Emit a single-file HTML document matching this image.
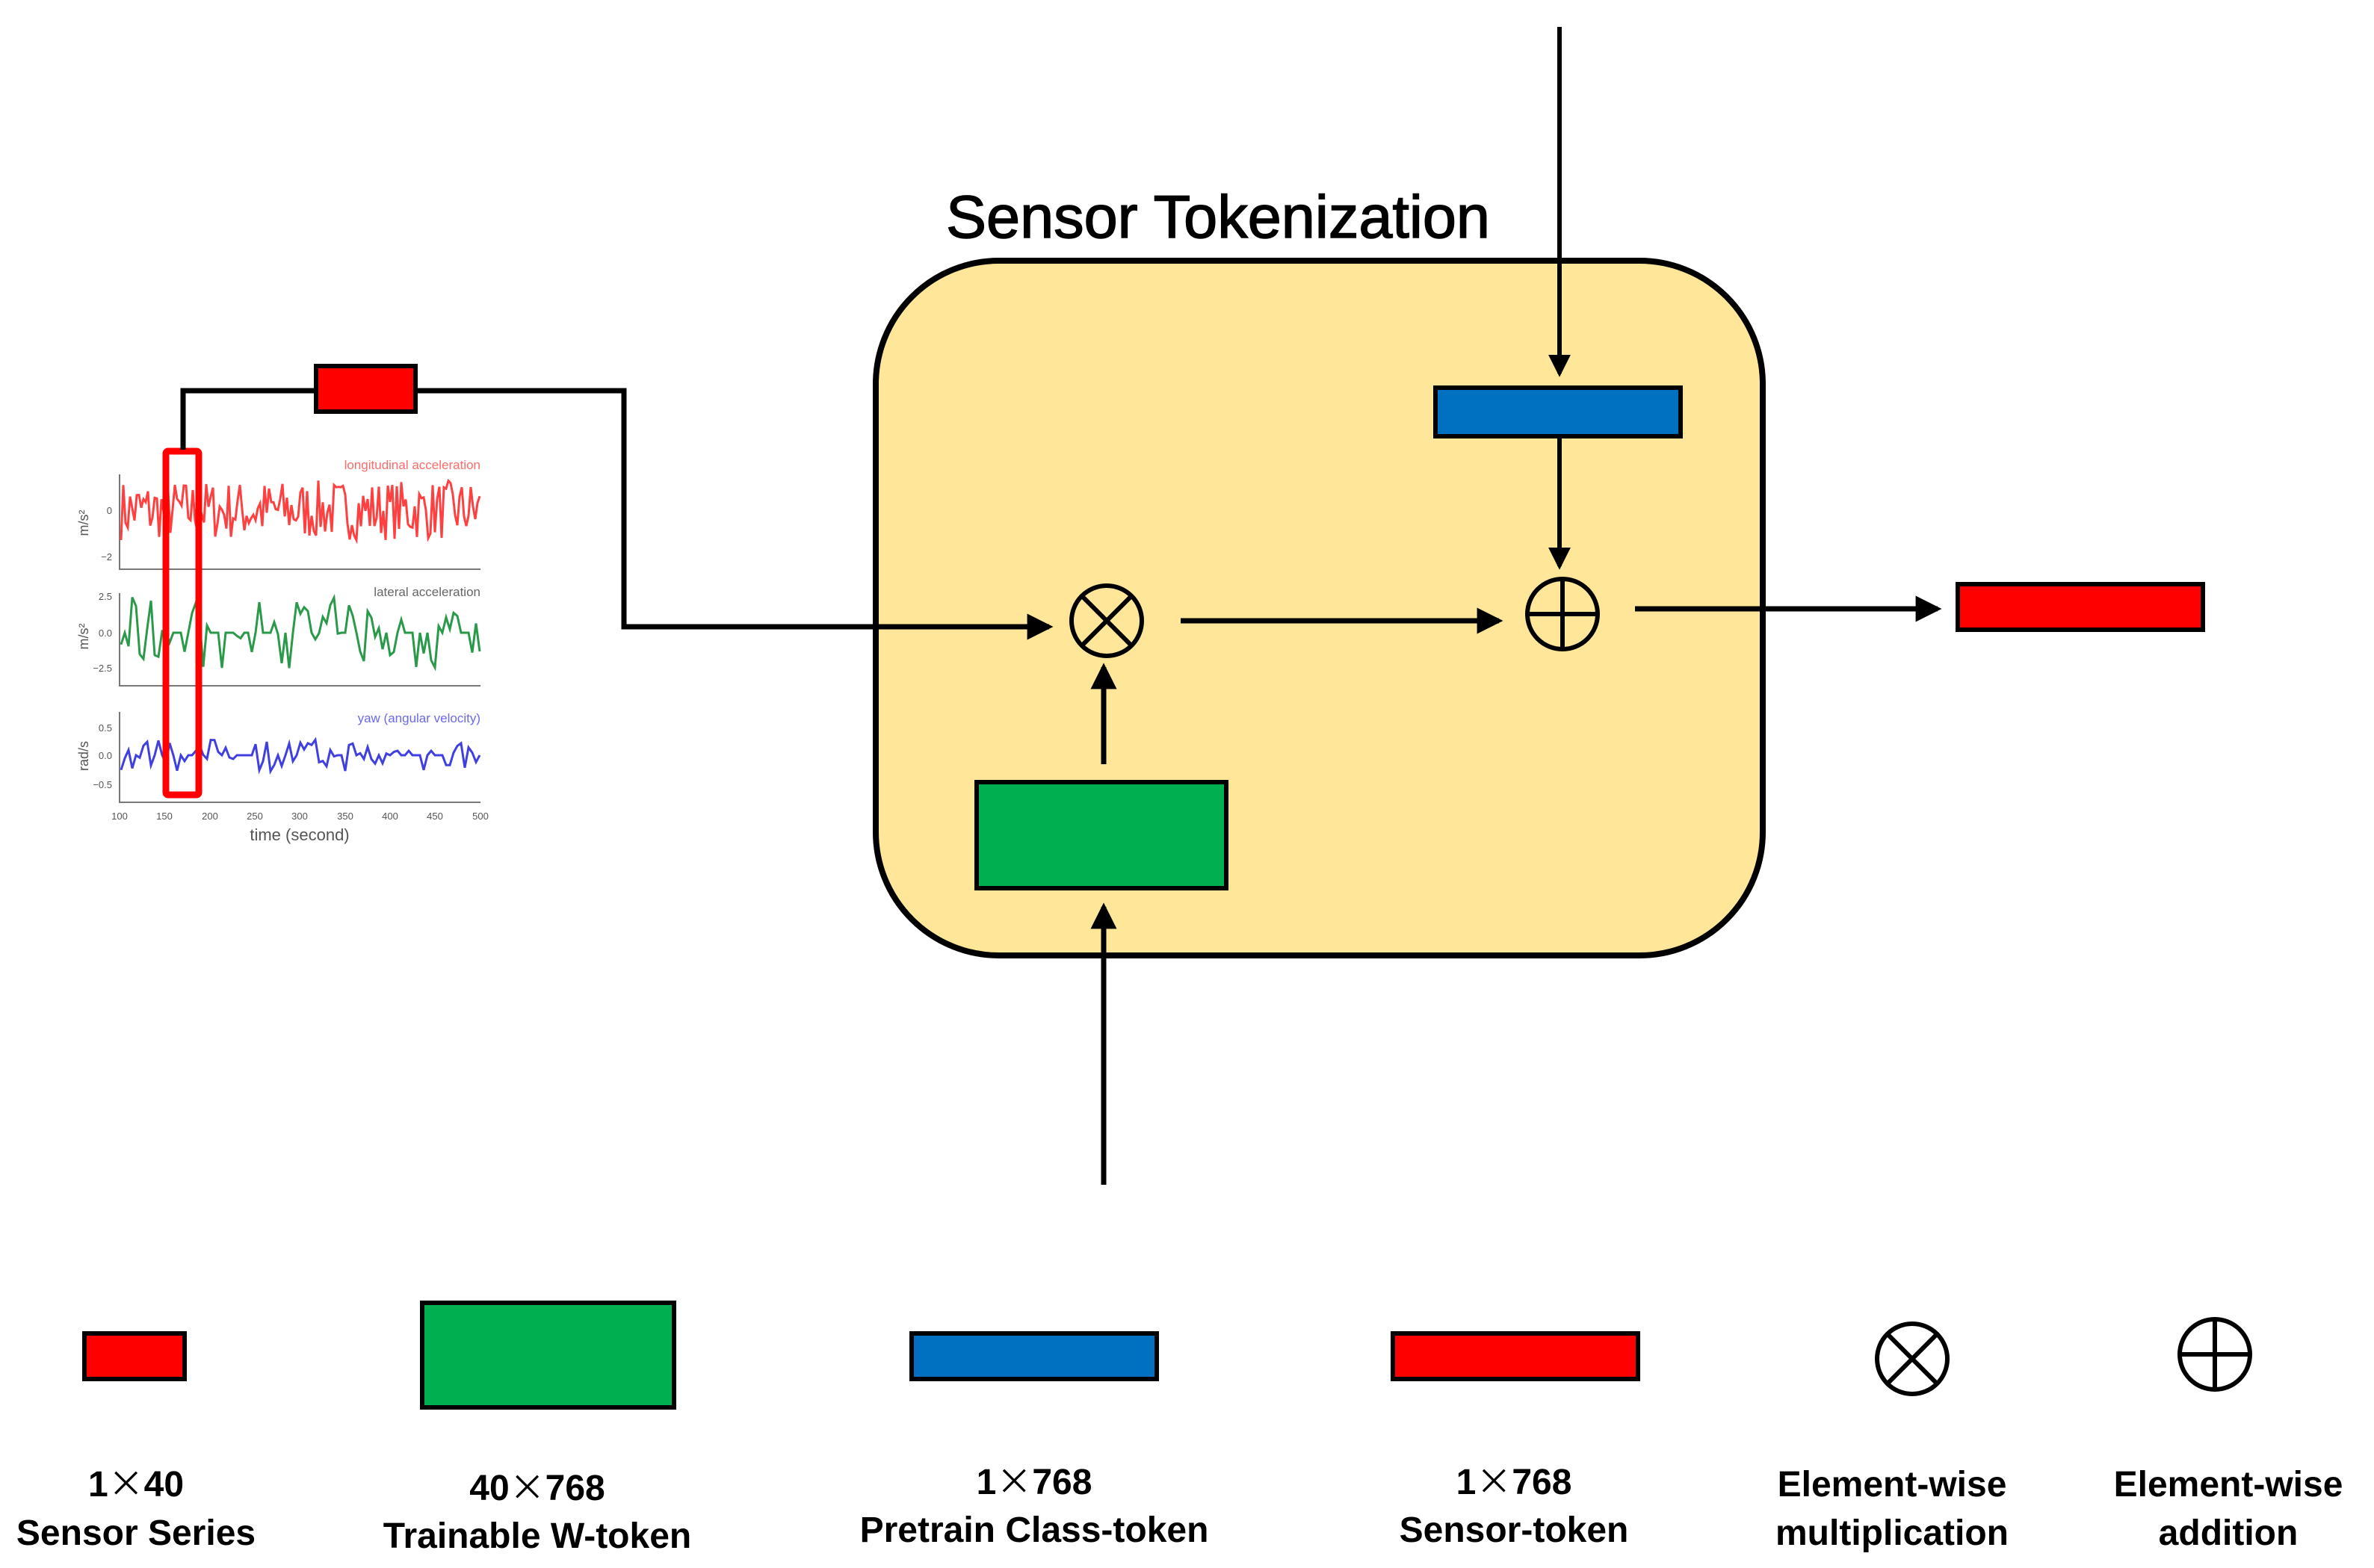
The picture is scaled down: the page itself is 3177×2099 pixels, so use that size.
<!DOCTYPE html>
<html><head><meta charset="utf-8"><style>
html,body{margin:0;padding:0;background:#fff;}
svg{display:block;}
text{font-family:"Liberation Sans","Noto Sans CJK SC",sans-serif;}
.cj{font-family:"Noto Sans CJK SC",sans-serif;font-weight:normal;}
</style></head><body>
<svg id="s" width="3177" height="2099" viewBox="0 0 3177 2099" xmlns="http://www.w3.org/2000/svg">
<defs>
<marker id="ah" markerWidth="5" markerHeight="5" refX="4.2" refY="2.5" orient="auto" markerUnits="strokeWidth">
<path d="M0,0 L5,2.5 L0,5 z" fill="#000"/></marker>
</defs>
<rect width="3177" height="2099" fill="#fff"/>
<!-- chart -->
<g id="chart" font-size="17" fill="#555">
<g stroke="#777" stroke-width="2" fill="none">
<path d="M160 635 V762 H643"/>
<path d="M160 794 V918 H643"/>
<path d="M160 953 V1074 H643"/>
</g>
<text x="643" y="628" text-anchor="end" fill="#ff6a6a">longitudinal acceleration</text>
<text x="643" y="798" text-anchor="end" fill="#666">lateral acceleration</text>
<text x="643" y="967" text-anchor="end" fill="#6a6aee">yaw (angular velocity)</text>
<g font-size="13" fill="#555" text-anchor="end">
<text x="150" y="688">0</text><text x="150" y="750">−2</text>
<text x="150" y="803">2.5</text><text x="150" y="852">0.0</text><text x="150" y="899">−2.5</text>
<text x="150" y="979">0.5</text><text x="150" y="1016">0.0</text><text x="150" y="1055">−0.5</text>
</g>
<g font-size="13" fill="#555" text-anchor="middle">
<text x="160" y="1097">100</text><text x="220" y="1097">150</text><text x="281" y="1097">200</text><text x="341" y="1097">250</text><text x="401" y="1097">300</text><text x="462" y="1097">350</text><text x="522" y="1097">400</text><text x="582" y="1097">450</text><text x="643" y="1097">500</text>
</g>
<text x="401" y="1125" text-anchor="middle" font-size="22" fill="#555">time (second)</text>
<g font-size="18" fill="#555">
<text transform="translate(118 700) rotate(-90)" text-anchor="middle">m/s²</text>
<text transform="translate(118 852) rotate(-90)" text-anchor="middle">m/s²</text>
<text transform="translate(118 1012) rotate(-90)" text-anchor="middle">rad/s</text>
</g>
<polyline id="p1" fill="none" stroke="#ff4040" stroke-width="3"/>
<polyline id="p2" fill="none" stroke="#2a9a4a" stroke-width="3"/>
<polyline id="p3" fill="none" stroke="#4040e0" stroke-width="3"/>
</g>
<rect x="222" y="604" width="44" height="460" fill="none" stroke="#ff0000" stroke-width="9" rx="3"/>
<!-- main box -->
<text x="1266" y="318" font-size="81" fill="#000" stroke="#000" stroke-width="1.5">Sensor Tokenization</text>
<rect x="1172" y="349" width="1187" height="930" rx="165" fill="#FFE699" stroke="#000" stroke-width="8"/>
<!-- input connector -->
<polyline points="245,602 245,523 835,523 835,839 1404,839" fill="none" stroke="#000" stroke-width="7" marker-end="url(#ah)"/>
<rect x="423" y="490" width="133" height="61" fill="#ff0000" stroke="#000" stroke-width="6"/>
<line x1="2087" y1="36" x2="2087" y2="500" stroke="#000" stroke-width="6" marker-end="url(#ah)"/>
<rect x="1921" y="519" width="328" height="65" fill="#0070C0" stroke="#000" stroke-width="6"/>
<line x1="2087" y1="584" x2="2087" y2="758" stroke="#000" stroke-width="6" marker-end="url(#ah)"/>
<g fill="none" stroke="#000" stroke-width="6">
<circle cx="1481" cy="831" r="47"/>
<line x1="1448" y1="798" x2="1514" y2="864"/><line x1="1514" y1="798" x2="1448" y2="864"/>
<circle cx="2091" cy="822" r="47"/>
<line x1="2091" y1="775" x2="2091" y2="869"/><line x1="2044" y1="822" x2="2138" y2="822"/>
</g>
<line x1="1580" y1="831" x2="2006" y2="831" stroke="#000" stroke-width="7" marker-end="url(#ah)"/>
<line x1="2188" y1="815" x2="2593" y2="815" stroke="#000" stroke-width="7" marker-end="url(#ah)"/>
<rect x="2620" y="782" width="328" height="61" fill="#ff0000" stroke="#000" stroke-width="6"/>
<rect x="1307" y="1047" width="334" height="142" fill="#00B050" stroke="#000" stroke-width="6"/>
<line x1="1477" y1="1023" x2="1477" y2="893" stroke="#000" stroke-width="7" marker-end="url(#ah)"/>
<line x1="1477" y1="1586" x2="1477" y2="1214" stroke="#000" stroke-width="7" marker-end="url(#ah)"/>
<!-- legend -->
<rect x="113" y="1785" width="134" height="61" fill="#ff0000" stroke="#000" stroke-width="6"/>
<rect x="565" y="1744" width="337" height="140" fill="#00B050" stroke="#000" stroke-width="6"/>
<rect x="1220" y="1785" width="328" height="61" fill="#0070C0" stroke="#000" stroke-width="6"/>
<rect x="1864" y="1785" width="328" height="61" fill="#ff0000" stroke="#000" stroke-width="6"/>
<g fill="none" stroke="#000" stroke-width="6">
<circle cx="2559" cy="1819" r="47"/>
<line x1="2526" y1="1786" x2="2592" y2="1852"/><line x1="2592" y1="1786" x2="2526" y2="1852"/>
<circle cx="2964" cy="1813" r="47"/>
<line x1="2964" y1="1766" x2="2964" y2="1860"/><line x1="2917" y1="1813" x2="3011" y2="1813"/>
</g>
<g font-size="48" font-weight="bold" fill="#000" text-anchor="middle">
<text x="182" y="2003">1<tspan class="cj">×</tspan>40</text><text x="182" y="2068">Sensor Series</text>
<text x="719" y="2008">40<tspan class="cj">×</tspan>768</text><text x="719" y="2072">Trainable W-token</text>
<text x="1384" y="2000">1<tspan class="cj">×</tspan>768</text><text x="1384" y="2064">Pretrain Class-token</text>
<text x="2026" y="2000">1<tspan class="cj">×</tspan>768</text><text x="2026" y="2064">Sensor-token</text>
<text x="2532" y="2003">Element-wise</text><text x="2532" y="2068">multiplication</text>
<text x="2982" y="2003">Element-wise</text><text x="2982" y="2068">addition</text>
</g>
</svg>
<script>
(function(){
var seed=7;function r(){seed=(seed*16807)%2147483647;return seed/2147483647;}
function gen(id,y0,amp,step){var pts=[],x=162,v=0;while(x<=642){v=(r()*2-1);if(step&&r()<0.4)v=0;pts.push(x.toFixed(1)+","+(y0-v*amp).toFixed(1));x+=step?5:3;}
document.getElementById(id).setAttribute("points",pts.join(" "));}
gen("p1",683,40,false);gen("p2",847,48,true);gen("p3",1011,22,true);
})();
</script>
</body></html>
